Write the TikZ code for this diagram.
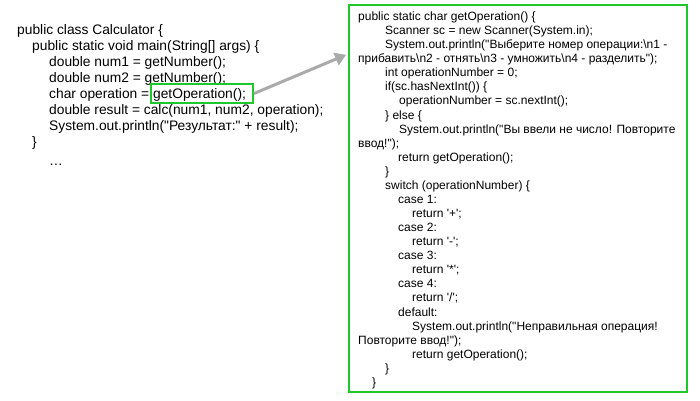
\documentclass[tikz,border=0pt]{standalone}
\usepackage{fontspec}
\setmainfont{Liberation Sans}[Ligatures=TeXOff]
\usetikzlibrary{arrows.meta}
\definecolor{boxgreen}{RGB}{30,200,40}
\definecolor{arrowgray}{RGB}{170,170,170}
\tikzset{
  lcode/.style={anchor=base west, inner sep=0pt, font=\fontsize{13.8}{16}\selectfont},
  rcode/.style={anchor=base west, inner sep=0pt, font=\fontsize{12}{14}\selectfont},
  greenbox/.style={draw=boxgreen, line width=2pt, inner sep=0pt},
  linkarrow/.style={draw=arrowgray, line width=3pt, -{Triangle[length=11pt,width=13pt]}, shorten >=2pt}
}
\begin{document}
\begin{tikzpicture}[x=1pt,y=-1pt]
\useasboundingbox (0,0) rectangle (700,400);
% left code
\node[lcode] (l1) at (17,34) {public class Calculator \{};
\node[lcode] (l2) at (32,50) {public static void main(String[] args) \{};
\node[lcode] (l3) at (49,66) {double num1 = getNumber();};
\node[lcode] (l4) at (49,82) {double num2 = getNumber();};
\node[lcode] (l5) at (49,98) {char operation = getOperation();};
\node[lcode] (l6) at (49,114) {double result = calc(num1, num2, operation);};
\node[lcode] (l7) at (49,130) {System.out.println("Результат:" + result);};
\node[lcode] (l8) at (32,146) {\}};
\node[lcode] (l9) at (49,165) {…};
% boxes
\node[greenbox, minimum width=102pt, minimum height=19pt] (small) at (202,93.5) {};
\node[greenbox, minimum width=338pt, minimum height=387pt] (big) at (518,198.5) {};
\draw[linkarrow] (small.east) -- ([yshift=-50pt]big.north west);
% right code
\node[rcode] (r1) at (358,20.5) {public static char getOperation() \{};
\node[rcode] (r2) at (385,34.6) {Scanner sc = new Scanner(System.in);};
\node[rcode] (r3) at (385,48.6) {System.out.println("Выберите номер операции:\textbackslash n1 -};
\node[rcode] (r4) at (358,62.7) {прибавить\textbackslash n2 - отнять\textbackslash n3 - умножить\textbackslash n4 - разделить");};
\node[rcode] (r5) at (385,76.8) {int operationNumber = 0;};
\node[rcode] (r6) at (385,90.8) {if(sc.hasNextInt()) \{};
\node[rcode] (r7) at (399,104.9) {operationNumber = sc.nextInt();};
\node[rcode] (r8) at (385,119.0) {\} else \{};
\node[rcode] (r9) at (399,133.1) {System.out.println("Вы ввели не число! Повторите};
\node[rcode] (r10) at (358,147.1) {ввод!");};
\node[rcode] (r11) at (398,161.2) {return getOperation();};
\node[rcode] (r12) at (385,175.3) {\}};
\node[rcode] (r13) at (385,189.3) {switch (operationNumber) \{};
\node[rcode] (r14) at (398,203.4) {case 1:};
\node[rcode] (r15) at (412,217.5) {return '+';};
\node[rcode] (r16) at (398,231.5) {case 2:};
\node[rcode] (r17) at (412,245.6) {return '-';};
\node[rcode] (r18) at (398,259.7) {case 3:};
\node[rcode] (r19) at (412,273.8) {return '*';};
\node[rcode] (r20) at (398,287.8) {case 4:};
\node[rcode] (r21) at (412,301.9) {return '/';};
\node[rcode] (r22) at (398,316.0) {default:};
\node[rcode] (r23) at (412,330.0) {System.out.println("Неправильная операция!};
\node[rcode] (r24) at (358,344.1) {Повторите ввод!");};
\node[rcode] (r25) at (412,358.2) {return getOperation();};
\node[rcode] (r26) at (385,372.2) {\}};
\node[rcode] (r27) at (372,386.3) {\}};
\end{tikzpicture}
\end{document}
